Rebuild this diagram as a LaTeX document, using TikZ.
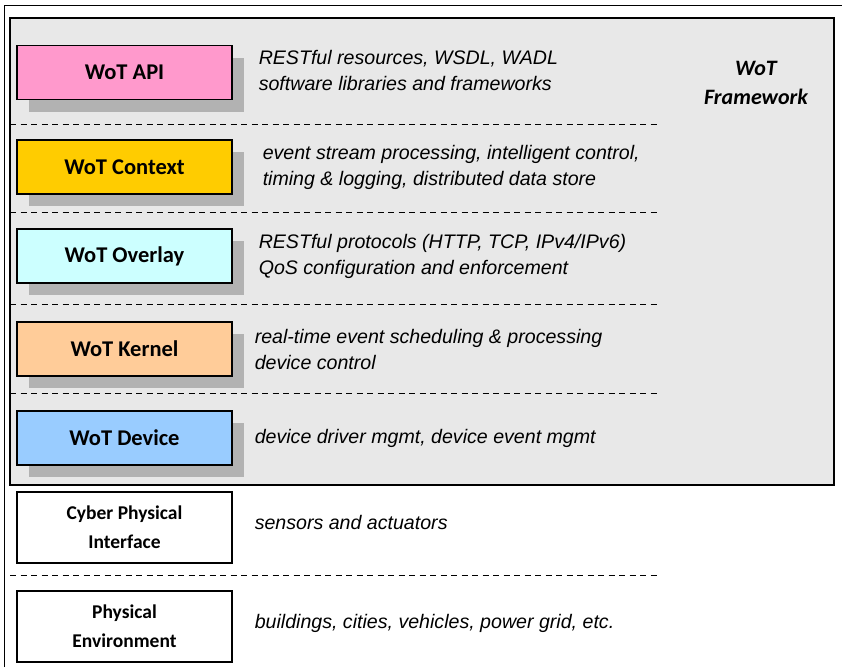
\documentclass[tikz,border=0pt]{standalone}
\usepackage{fontspec}
\setmainfont{Liberation Sans}
\newfontfamily\calibri{Carlito}
\usetikzlibrary{shadows,positioning}
\definecolor{apipink}{HTML}{FF99CC}
\definecolor{ctxgold}{HTML}{FFCC00}
\definecolor{ovlcyan}{HTML}{CCFFFF}
\definecolor{krnpeach}{HTML}{FFCC99}
\definecolor{devblue}{HTML}{99CCFF}
\tikzstyle{layer} = [rectangle, draw, line width=1.1pt, minimum width=215pt,
    minimum height=54pt, font=\calibri\bfseries\fontsize{22.5}{26}\selectfont,
    general shadow={fill=gray!60, shadow xshift=12pt, shadow yshift=-12pt}]
\tikzstyle{base} = [rectangle, draw, line width=1.1pt, fill=white, minimum width=215pt,
    minimum height=71pt, align=center, font=\calibri\bfseries\fontsize{19.5}{29}\selectfont]
\tikzstyle{desc} = [anchor=west, inner sep=0pt, align=left,
    font=\itshape\fontsize{19.6}{26}\selectfont]
\tikzstyle{sep} = [line width=0.9pt, dash pattern=on 6pt off 4.5pt]

\begin{document}
\begin{tikzpicture}[x=1pt,y=-1pt]
  \useasboundingbox (0,0) rectangle (842,667);
  % Outer frame and framework area
  \draw[line width=1pt] (4,667) |- (842,5);
  \node [draw, line width=1.6pt, fill=gray!18, minimum width=824pt, minimum height=467pt,
    inner sep=0pt] (frame) at (422,251.5) {};
  \node [align=center, font=\calibri\bfseries\itshape\fontsize{22}{29}\selectfont]
    (fwlabel) at (756,83) {WoT\\Framework};
  % Separators
  \draw[sep] (10,124) -- (660,124);
  \draw[sep] (10,212) -- (660,212);
  \draw[sep] (10,304) -- (660,304);
  \draw[sep] (10,393) -- (660,393);
  \draw[sep] (10,575) -- (660,575);
  % Place layers
  \node [layer, fill=apipink] (api) at (124.5,72.5) {WoT API};
  \node [layer, fill=ctxgold] (context) at (124.5,167) {WoT Context};
  \node [layer, fill=ovlcyan] (overlay) at (124.5,256) {WoT Overlay};
  \node [layer, fill=krnpeach] (kernel) at (124.5,349) {WoT Kernel};
  \node [layer, fill=devblue] (device) at (124.5,438) {WoT Device};
  \node [base] (cpi) at (124.5,527.5) {Cyber Physical\\Interface};
  \node [base] (physenv) at (124.5,626.5) {Physical\\Environment};
  % Place descriptions
  \node [desc, right=26pt of api, yshift=2pt] (apitext)
    {RESTful resources, WSDL, WADL\\software libraries and frameworks};
  \node [desc, right=30pt of context] (contexttext)
    {event stream processing, intelligent control,\\timing \& logging, distributed data store};
  \node [desc, right=26pt of overlay] (overlaytext)
    {RESTful protocols (HTTP, TCP, IPv4/IPv6)\\QoS configuration and enforcement};
  \node [desc, right=22pt of kernel] (kerneltext)
    {real-time event scheduling \& processing\\device control};
  \node [desc, right=22pt of device] (devicetext)
    {device driver mgmt, device event mgmt};
  \node [desc, right=22pt of cpi.east, yshift=5pt] (cpitext) {sensors and actuators};
  \node [desc, right=22pt of physenv.east, yshift=3pt] (physenvtext)
    {buildings, cities, vehicles, power grid, etc.};
\end{tikzpicture}
\end{document}
